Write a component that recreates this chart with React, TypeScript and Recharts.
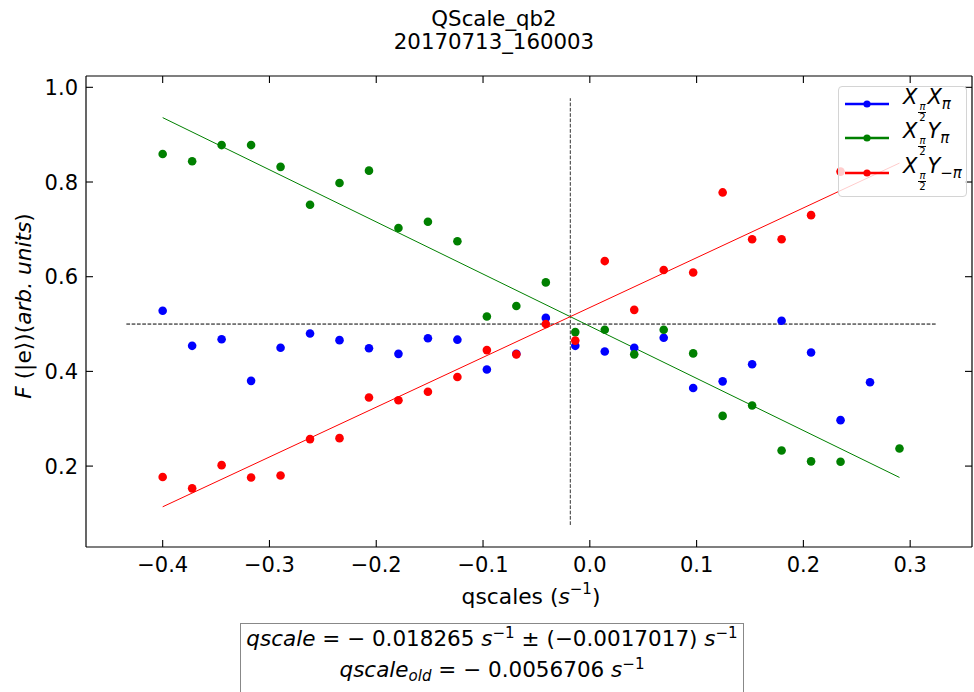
import React from 'react';
import { ComposedChart, XAxis, YAxis, Scatter, Line, Label } from 'recharts';

// scan points (s^-1)
const qscales = [
  -0.4, -0.3724, -0.3448, -0.3172, -0.2896, -0.262, -0.2344, -0.2068, -0.1792, -0.1516,
  -0.124, -0.0964, -0.0688, -0.0412, -0.0136, 0.014, 0.0416, 0.0692, 0.0968, 0.1244,
  0.152, 0.1796, 0.2072, 0.2348, 0.2624, 0.29,
];

const xxValues = [
  0.528, 0.454, 0.468, 0.38, 0.45, 0.48, 0.466, 0.449, 0.437, 0.47,
  0.467, 0.404, 0.437, 0.513, 0.454, 0.442, 0.45, 0.471, 0.365, 0.379,
  0.415, 0.507, 0.44, 0.297, 0.377, null,
];
const xyValues = [
  0.859, 0.844, 0.878, 0.878, 0.832, 0.752, 0.798, 0.824, 0.703, 0.716,
  0.675, 0.516, 0.538, 0.588, 0.483, 0.488, 0.436, 0.488, 0.438, 0.306,
  0.328, 0.233, 0.21, 0.209, null, 0.237,
];
const xyNegValues = [
  0.177, 0.153, 0.202, 0.176, 0.18, 0.257, 0.259, 0.345, 0.339, 0.357,
  0.388, 0.445, 0.436, 0.5, 0.465, 0.633, 0.53, 0.614, 0.609, 0.778,
  0.679, 0.679, 0.73, 0.822, null, null,
];

// linear fits (end points)
const fitRange = [-0.4, 0.29];
const fitXYEnds = [0.936, 0.176];
const fitXYNegEnds = [0.114, 0.84];

// guide lines
const qscaleFit = -0.018265;
const vLineRange = [0.0756, 0.977];
const hLineLevel = 0.5;
const hLineRange = [-0.434, 0.324];

const xTicks = [-0.4, -0.3, -0.2, -0.1, 0.0, 0.1, 0.2, 0.3];
const yTicks = [0.2, 0.4, 0.6, 0.8, 1.0];

const X_DOMAIN = [-0.4718, 0.3579];
const Y_DOMAIN = [0.0291, 1.0239];

const FONT = '"DejaVu Sans", sans-serif';
const BLUE = '#0000ff';
const GREEN = '#008000';
const RED = '#ff0000';

const toPoints = (vals: (number | null)[]) =>
  qscales.map((x, i) => ({ x, y: vals[i] })).filter((p) => p.y !== null);

const fitLine = (ends: number[]) => fitRange.map((x, i) => ({ x, y: ends[i] }));

const vLine = vLineRange.map((y) => ({ x: qscaleFit, y }));
const hLine = hLineRange.map((x) => ({ x, y: hLineLevel }));

const fmt = (v: number) => v.toFixed(1).replace('-', '\u2212');

// plot box edges (px)
const PLOT_LEFT = 86;
const PLOT_RIGHT = 972;
const PLOT_TOP = 76;
const PLOT_BOTTOM = 547;
const TICK = 7;
const TICK_FONT = 21;

const BottomTick = ({ x, payload }: any) => (
  <g>
    <line x1={x} x2={x} y1={PLOT_BOTTOM} y2={PLOT_BOTTOM - TICK} stroke="#000" strokeWidth={1.1} />
    <text x={x} y={PLOT_BOTTOM + 25} textAnchor="middle" fontSize={TICK_FONT} fontFamily={FONT} fill="#000">
      {fmt(payload.value)}
    </text>
  </g>
);
const TopTick = ({ x }: any) => (
  <line x1={x} x2={x} y1={PLOT_TOP} y2={PLOT_TOP + TICK} stroke="#000" strokeWidth={1.1} />
);
const LeftTick = ({ y, payload }: any) => (
  <g>
    <line x1={PLOT_LEFT} x2={PLOT_LEFT + TICK} y1={y} y2={y} stroke="#000" strokeWidth={1.1} />
    <text x={PLOT_LEFT - 8} y={y + 7.5} textAnchor="end" fontSize={TICK_FONT} fontFamily={FONT} fill="#000">
      {fmt(payload.value)}
    </text>
  </g>
);
const RightTick = ({ y }: any) => (
  <line x1={PLOT_RIGHT} x2={PLOT_RIGHT - TICK} y1={y} y2={y} stroke="#000" strokeWidth={1.1} />
);

const dot = (color: string) => (p: any) => <circle cx={p.cx} cy={p.cy} r={4.3} fill={color} />;

const Frac = () => (
  <span
    style={{
      display: 'inline-flex',
      flexDirection: 'column',
      alignItems: 'center',
      fontSize: 10,
      lineHeight: '10px',
      verticalAlign: '-0.6em',
      margin: '0 1px',
    }}
  >
    <span style={{ borderBottom: '0.8px solid #000', padding: '0 1px' }}>π</span>
    <span style={{ fontStyle: 'normal' }}>2</span>
  </span>
);

const legendItems = [
  { color: BLUE, second: 'X', sub: 'π' },
  { color: GREEN, second: 'Y', sub: 'π' },
  { color: RED, second: 'Y', sub: '\u2212π' },
];

const Sup = ({ children }: { children: React.ReactNode }) => (
  <span style={{ position: 'relative', top: '-0.5em', fontSize: '0.7em', fontStyle: 'normal' }}>
    {children}
  </span>
);

const axisLine = { stroke: '#000', strokeWidth: 1.2 };

export default function App() {
  return (
    <div
      style={{
        position: 'absolute',
        left: 0,
        top: 0,
        width: 974,
        height: 692,
        overflow: 'hidden',
        background: '#fff',
        fontFamily: FONT,
        color: '#000',
      }}
    >
      <div
        style={{
          position: 'absolute',
          left: 0,
          width: 988,
          top: 7.1,
          textAlign: 'center',
          fontSize: 21.3,
          lineHeight: '23px',
        }}
      >
        <div>QScale_qb2</div>
        <div>20170713_160003</div>
      </div>

      <ComposedChart width={974} height={692} margin={{ top: 66, right: 0, bottom: 85, left: 26 }}>
        <XAxis
          dataKey="x"
          type="number"
          domain={X_DOMAIN}
          ticks={xTicks}
          interval={0}
          height={60}
          tickLine={false}
          axisLine={axisLine}
          tick={<BottomTick />}
          allowDataOverflow
        >
          <Label
            content={() => (
              <text x={531} y={604} textAnchor="middle" fontSize={21.8} fontFamily={FONT} fill="#000">
                qscales (<tspan fontStyle="italic">s</tspan>
                <tspan dy={-10} fontSize={15}>
                  {'\u22121'}
                </tspan>
                <tspan dy={10}>)</tspan>
              </text>
            )}
          />
        </XAxis>
        <XAxis
          xAxisId="top"
          orientation="top"
          dataKey="x"
          type="number"
          domain={X_DOMAIN}
          ticks={xTicks}
          interval={0}
          height={10}
          tickLine={false}
          axisLine={axisLine}
          tick={<TopTick />}
          allowDataOverflow
        />
        <YAxis
          type="number"
          domain={Y_DOMAIN}
          ticks={yTicks}
          interval={0}
          width={60}
          tickLine={false}
          axisLine={axisLine}
          tick={<LeftTick />}
          allowDataOverflow
        >
          <Label
            content={() => (
              <text
                x={31}
                y={306}
                transform="rotate(-90, 31, 306)"
                textAnchor="middle"
                fontSize={21.7}
                fontFamily={FONT}
                fill="#000"
              >
                <tspan fontStyle="italic">F</tspan> (|e⟩)(<tspan fontStyle="italic">arb. units</tspan>)
              </text>
            )}
          />
        </YAxis>
        <YAxis
          yAxisId="right"
          orientation="right"
          type="number"
          domain={Y_DOMAIN}
          ticks={yTicks}
          interval={0}
          width={2}
          tickLine={false}
          axisLine={axisLine}
          tick={<RightTick />}
          allowDataOverflow
        />

        <Line
          data={vLine}
          dataKey="y"
          stroke="#333"
          strokeWidth={1}
          strokeDasharray="3.7 1.6"
          dot={false}
          isAnimationActive={false}
        />
        <Line
          data={hLine}
          dataKey="y"
          stroke="#000"
          strokeWidth={1}
          strokeDasharray="3.7 1.6"
          dot={false}
          isAnimationActive={false}
        />
        <Scatter data={toPoints(xxValues)} dataKey="y" shape={dot(BLUE)} isAnimationActive={false} />
        <Scatter data={toPoints(xyValues)} dataKey="y" shape={dot(GREEN)} isAnimationActive={false} />
        <Scatter data={toPoints(xyNegValues)} dataKey="y" shape={dot(RED)} isAnimationActive={false} />
        <Line
          data={fitLine(fitXYEnds)}
          dataKey="y"
          stroke={GREEN}
          strokeWidth={1}
          dot={false}
          isAnimationActive={false}
        />
        <Line
          data={fitLine(fitXYNegEnds)}
          dataKey="y"
          stroke={RED}
          strokeWidth={1}
          dot={false}
          isAnimationActive={false}
        />
      </ComposedChart>

      {/* legend */}
      <div
        style={{
          position: 'absolute',
          left: 838,
          top: 86,
          width: 127,
          height: 109,
          border: '1px solid #d4d4d4',
          borderRadius: 4,
          background: 'rgba(255,255,255,0.8)',
        }}
      >
        {legendItems.map((it, i) => (
          <div
            key={i}
            style={{
              position: 'absolute',
              left: 6,
              top: 16.7 + i * 34.5 - 12,
              height: 24,
              display: 'flex',
              alignItems: 'center',
            }}
          >
            <svg width={44} height={10} style={{ display: 'block' }}>
              <line x1={0} x2={44} y1={5} y2={5} stroke={it.color} strokeWidth={2.7} />
              <circle cx={22} cy={5} r={3.6} fill={it.color} />
            </svg>
            <span style={{ marginLeft: 14, fontSize: 21, fontStyle: 'italic', whiteSpace: 'nowrap' }}>
              X<Frac />
              {it.second}
              <span style={{ fontSize: 15, position: 'relative', top: '0.35em' }}>{it.sub}</span>
            </span>
          </div>
        ))}
      </div>

      {/* fit result box */}
      <div
        style={{
          position: 'absolute',
          left: 240,
          top: 623,
          width: 504,
          height: 90,
          border: '1px solid #888',
          boxSizing: 'border-box',
          fontSize: 21.5,
          lineHeight: '23px',
          textAlign: 'center',
        }}
      >
        <div style={{ position: 'absolute', left: 0, right: 0, top: 2.7, whiteSpace: 'nowrap' }}>
          <i>qscale</i> = − 0.018265 <i>s</i>
          <Sup>−1</Sup> ± (−0.0017017) <i>s</i>
          <Sup>−1</Sup>
        </div>
        <div style={{ position: 'absolute', left: 0, right: 0, top: 33.7, whiteSpace: 'nowrap' }}>
          <i>qscale</i>
          <span style={{ fontSize: 15, position: 'relative', top: '0.3em', fontStyle: 'italic' }}>old</span> = − 0.0056706{' '}
          <i>s</i>
          <Sup>−1</Sup>
        </div>
      </div>
    </div>
  );
}
